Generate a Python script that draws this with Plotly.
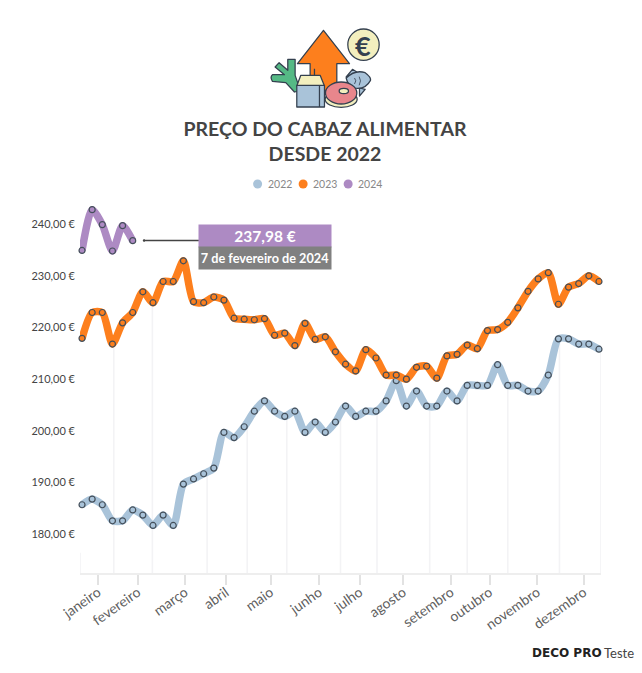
import base64
import plotly.graph_objects as go

weeks = list(range(1, 53))

precos_2022 = [185.7, 186.8, 185.7, 182.6, 182.6, 184.7, 183.7, 181.7, 183.7, 181.7,
               189.7, 190.7, 191.7, 192.8, 199.7, 198.7, 200.8, 203.8, 205.8, 203.8,
               202.8, 203.8, 199.7, 201.7, 199.7, 201.7, 204.8, 202.8, 203.8, 203.8,
               205.8, 209.7, 204.8, 207.7, 204.8, 204.8, 207.7, 205.8, 208.8, 208.8,
               208.8, 212.8, 208.8, 208.8, 207.7, 207.7, 210.8, 217.8, 217.8, 216.8,
               216.8, 215.8]
precos_2023 = [217.9, 222.9, 222.9, 216.8, 220.9, 222.9, 226.9, 224.8, 228.9, 228.9,
               232.9, 225.0, 224.8, 225.9, 225.3, 221.8, 221.6, 221.5, 221.7, 218.5,
               218.9, 216.5, 220.8, 217.7, 218.2, 215.3, 212.9, 211.6, 215.7, 214.1,
               210.8, 210.8, 210.0, 212.3, 212.5, 210.2, 214.5, 214.8, 216.6, 215.9,
               219.4, 219.6, 221.0, 223.8, 227.0, 229.4, 230.6, 224.5, 227.8, 228.5,
               230.0, 228.9]
precos_2024 = [234.9, 242.8, 239.9, 234.8, 239.7, 236.8]

month_names = ['janeiro', 'fevereiro', 'março', 'abril', 'maio', 'junho', 'julho',
               'agosto', 'setembro', 'outubro', 'novembro', 'dezembro']
month_ticks = [2.58, 6.5, 11.17, 15.2, 19.6, 24.4, 28.4, 32.7, 37.4, 41.2, 45.9, 50.5]

# faint drop lines between months: where they sit, where they start and stop
edge_x = [0.8, 4.13, 7.94, 13.34, 17.3, 21.2, 26.5, 30.1, 35.3, 39.0, 43.0, 48.1, 52.2]
edge_top = [176.4, 217.0, 224.8, 192.0, 201.0, 202.8, 203.0, 203.8, 205.0, 208.8, 208.8, 217.8, 215.8]
edge_bottom = [172.5, 165.7, 167.3, 172.3, 172.3, 172.3, 172.3, 172.3, 172.3, 168.6, 168.6, 168.6, 168.6]

y_ticks = [180, 190, 200, 210, 220, 230, 240]
y_labels = ['180,00 €', '190,00 €', '200,00 €', '210,00 €', '220,00 €', '230,00 €', '240,00 €']

colors = {'2022': '#a9c3d9', '2023': '#fd7f1d', '2024': '#ad8ac3'}
outline = '#444f5a'
FONT = 'Lato'

W, H = 642, 673
LEFT, RIGHT, TOP, BOTTOM = 80, 600.7, 190, 573


def px(x):
    return (x - LEFT) / (RIGHT - LEFT)


def py(y):
    return (BOTTOM - y) / (BOTTOM - TOP)


# icon above the title, drawn in a 360x270 box
icon_svg = f'''<svg xmlns="http://www.w3.org/2000/svg" width="360" height="270" viewBox="0 0 360 270">
<g stroke="#34404f" stroke-width="3.8" stroke-linejoin="round">
<path d="M175 25 L253 125 L215 125 L215 205 L135 205 L135 125 L97 125 Z" fill="#fd7f1d"/>
<circle cx="295" cy="68" r="47" fill="#f3efbe"/>
<path d="M68 112 L90 112 L90 160 L106 206 L88 210 L62 182 L22 178 Q14 165 22 158 L58 158 L30 135 L42 122 L68 145 Z" fill="#55b985"/>
<path d="M148 140 L148 160" fill="none"/>
<path d="M107 160 L165 160 L178 192 L95 192 Z" fill="#f3efbe"/>
<path d="M95 190 L178 190 L178 255 L95 255 Z" fill="#a9c3d9"/>
<path d="M163 190 L163 255" fill="none"/>
<path d="M243 165 L262 142 L275 150 Z" fill="#a9c3d9"/>
<path d="M283 198 L283 222 L300 202 Z" fill="#a9c3d9"/>
<path d="M243 168 Q270 142 300 152 Q318 165 316 175 Q300 205 265 198 Q248 190 243 168 Z" fill="#a9c3d9"/>
<path d="M268 168 Q276 176 268 186 M282 164 Q290 176 282 190" fill="none" stroke-width="2.5"/>
<ellipse cx="228" cy="232" rx="48" ry="24" fill="#f3efbe"/>
<ellipse cx="228" cy="213" rx="47" ry="33" fill="#e8868c"/>
<ellipse cx="236" cy="207" rx="14" ry="8" fill="#f3efbe"/>
</g>
</svg>'''
icon_uri = 'data:image/svg+xml;base64,' + base64.b64encode(icon_svg.encode()).decode()

fig = go.Figure()

# drop lines go in first so the series sit on top of them
for x, top, bottom in zip(edge_x, edge_top, edge_bottom):
    fig.add_trace(go.Scatter(x=[x, x], y=[bottom, top], mode='lines', cliponaxis=False,
                             line=dict(color='#f3f3f5', width=1.6), hoverinfo='skip',
                             showlegend=False))

for name, values in [('2022', precos_2022), ('2023', precos_2023), ('2024', precos_2024)]:
    fig.add_trace(go.Scatter(
        x=weeks[:len(values)], y=values, name=name, mode='lines+markers',
        cliponaxis=False, showlegend=False,
        line=dict(color=colors[name], width=7.5, shape='spline', smoothing=0.7),
        marker=dict(color=colors[name], size=6, line=dict(color=outline, width=1.2)),
    ))

annotations = [
    dict(x=px(363), y=py(45), text='€', font=dict(family=FONT, size=27, color='#34404f', weight=700)),
    # legend
    dict(x=px(266), y=py(184), text='2022', xanchor='left', font=dict(family=FONT, size=10.5, color='#888888')),
    dict(x=px(311), y=py(184), text='2023', xanchor='left', font=dict(family=FONT, size=10.5, color='#888888')),
    dict(x=px(356), y=py(184), text='2024', xanchor='left', font=dict(family=FONT, size=10.5, color='#888888')),
    # callout
    dict(x=px(265), y=py(236), text='<b>237,98 €</b>', width=132, height=22, bgcolor=colors['2024'],
         font=dict(family=FONT, size=15.5, color='white'), borderpad=0),
    dict(x=px(265), y=py(258), text='<b>7 de fevereiro de 2024</b>', width=132, height=22, bgcolor='#808080',
         font=dict(family=FONT, size=12.7, color='white'), borderpad=0),
    # brand
    dict(x=px(604), y=py(653), text='<b>DECO PRO</b>', xanchor='right',
         font=dict(family='DejaVu Sans', size=12, color='#222222')),
    dict(x=px(602), y=py(653), text='Teste', xanchor='left',
         font=dict(family=FONT, size=13, color='#444444')),
]
for a in annotations:
    a.update(xref='paper', yref='paper', showarrow=False, yanchor='middle')
    a.setdefault('xanchor', 'center')

shapes = [dict(type='line', xref='paper', yref='paper', x0=px(144), x1=px(199), y0=py(240.5), y1=py(240.5),
               line=dict(color='#444444', width=1.3)),
          dict(type='circle', xref='paper', yref='paper', x0=px(142.8), x1=px(145.2), y0=py(239.3), y1=py(241.7),
               fillcolor='#444444', line=dict(width=0))]
for name, cx in [('2022', 257.5), ('2023', 303), ('2024', 348)]:
    shapes.append(dict(type='circle', xref='paper', yref='paper', x0=px(cx - 4.5), x1=px(cx + 4.5),
                       y0=py(184 + 4.5), y1=py(184 - 4.5), fillcolor=colors[name], line=dict(width=0)))

fig.update_layout(
    width=W, height=H, margin=dict(l=LEFT, r=W - RIGHT, t=TOP, b=H - BOTTOM),
    paper_bgcolor='white', plot_bgcolor='white', showlegend=False,
    font=dict(family=FONT),
    title=dict(text='PREÇO DO CABAZ ALIMENTAR<br>DESDE 2022', x=325 / W, xanchor='center',
               y=1 - 136 / H, yanchor='top',
               font=dict(family=FONT, size=19.5, color='#444444', weight=700)),
    xaxis=dict(range=[0.8, 52.2], tickmode='array', tickvals=month_ticks, ticktext=month_names,
               tickangle=-35, ticks='outside', ticklen=10, tickwidth=2, tickcolor='#e2e2e2',
               ticklabelstandoff=-6,
               tickfont=dict(family=FONT, size=14, color='#5f5f5f'),
               showgrid=False, zeroline=False, showline=True, linecolor='#eeeeee', linewidth=2),
    yaxis=dict(range=[172.5, 246.6], tickmode='array', tickvals=y_ticks, ticktext=y_labels,
               ticklabelstandoff=4,
               tickfont=dict(family=FONT, size=11, color='#444444'),
               showgrid=False, zeroline=False, showline=False),
    annotations=annotations, shapes=shapes,
    images=[dict(source=icon_uri, xref='paper', yref='paper', x=px(265), y=py(22),
                 sizex=120 / (RIGHT - LEFT), sizey=90 / (BOTTOM - TOP),
                 xanchor='left', yanchor='top', sizing='stretch', layer='above')],
)

# the browser's default 8px body margin would push the whole chart off
fig.write_html("out.html", config=dict(displayModeBar=False),
               post_script="document.body.style.margin='0';")
